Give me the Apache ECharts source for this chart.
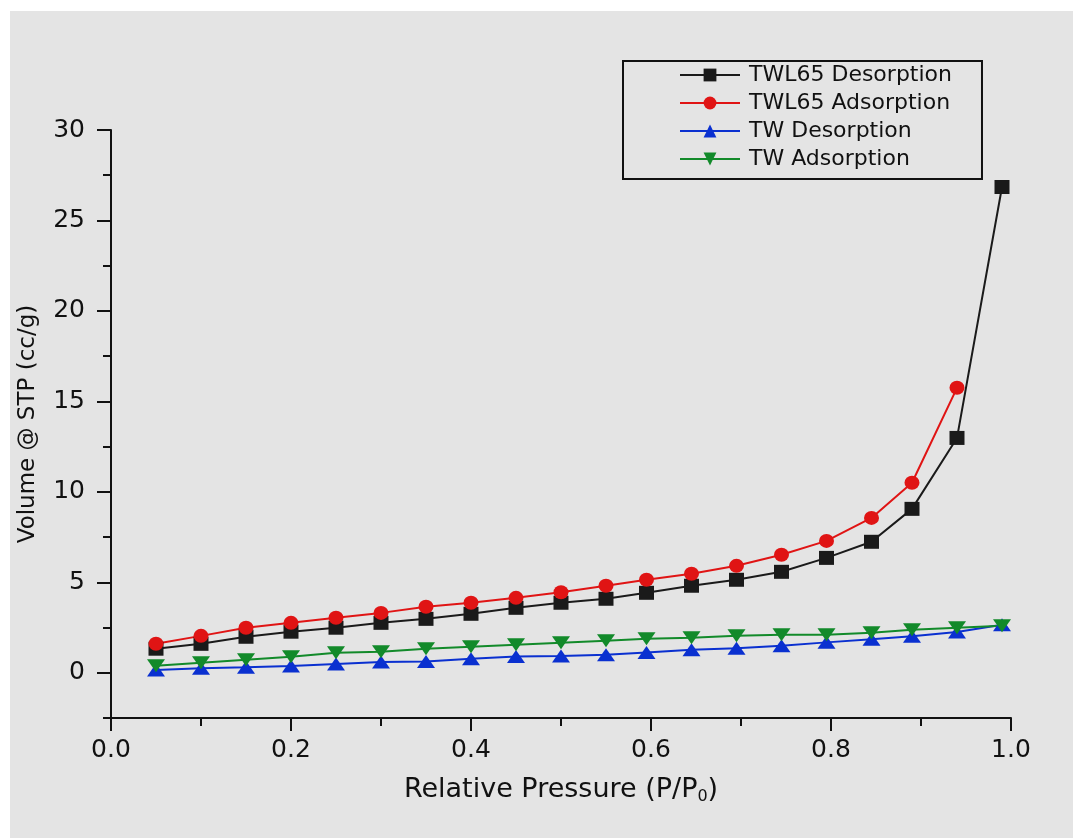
<!DOCTYPE html>
<html>
<head>
<meta charset="utf-8">
<script src="https://cdn.jsdelivr.net/npm/echarts@6/dist/echarts.min.js"></script>
<style>
  html, body { margin: 0; padding: 0; background: #ffffff; }
  #bg { position: absolute; left: 10px; top: 11px; width: 1063px; height: 827px; background: #e4e4e4; }
  #chart { position: absolute; left: 0; top: 0; width: 1073px; height: 838px; }
</style>
</head>
<body>
<div id="bg"></div>
<div id="chart"></div>
<script>
// ---- data ----
const pressure = [0.05, 0.10, 0.15, 0.20, 0.25, 0.30, 0.35, 0.40, 0.45, 0.50, 0.55, 0.595, 0.645, 0.695, 0.745, 0.795, 0.845, 0.89, 0.94, 0.99];
const twl65Desorption = [1.33, 1.6, 1.99, 2.27, 2.49, 2.76, 2.98, 3.26, 3.59, 3.87, 4.09, 4.42, 4.81, 5.14, 5.58, 6.35, 7.24, 9.06, 12.98, 26.85];
const twl65Adsorption = [1.6, 2.04, 2.49, 2.76, 3.04, 3.31, 3.65, 3.87, 4.14, 4.45, 4.81, 5.14, 5.47, 5.91, 6.52, 7.29, 8.56, 10.5, 15.75];
const twDesorption = [0.15, 0.25, 0.3, 0.38, 0.48, 0.6, 0.62, 0.78, 0.9, 0.92, 1.0, 1.12, 1.27, 1.35, 1.5, 1.68, 1.85, 2.02, 2.25, 2.65];
const twAdsorption = [0.39, 0.55, 0.72, 0.88, 1.1, 1.16, 1.33, 1.44, 1.55, 1.66, 1.77, 1.88, 1.93, 2.04, 2.1, 2.1, 2.21, 2.38, 2.49, 2.6];
const seriesNames = ['TWL65 Desorption', 'TWL65 Adsorption', 'TW Desorption', 'TW Adsorption'];
const yMajorTicks = [0, 5, 10, 15, 20, 25, 30];
const xTickLabels = ['0.0', '0.2', '0.4', '0.6', '0.8', '1.0'];

function pairs(xs, ys) { return ys.map((y, i) => [xs[i], y]); }

const FONT = 'DejaVu Sans, sans-serif';
const INK = '#111';
const chart = echarts.init(document.getElementById('chart'), null, { renderer: 'canvas' });

function lineSeries(name, data, color, symbol, size) {
  return {
    name: name, type: 'line', data: data,
    symbol: symbol, symbolSize: size,
    lineStyle: { color: color, width: 2 },
    itemStyle: { color: color },
    emphasis: { disabled: true },
    animation: false
  };
}

chart.setOption({
  backgroundColor: 'transparent',
  animation: false,
  grid: { left: 111, right: 62, top: 130, bottom: 120, containLabel: false },
  legend: {
    orient: 'vertical',
    left: 623, top: 61,
    data: seriesNames,
    itemWidth: 60, itemHeight: 16, itemGap: 6,
    padding: [3, 30, 9, 56],
    borderColor: INK, borderWidth: 2,
    textStyle: { fontFamily: FONT, fontSize: 22, color: INK, padding: [0, 0, 0, 4] },
    selectedMode: false
  },
  xAxis: {
    type: 'value', min: 0, max: 1, interval: 0.2,
    axisLine: { show: true, onZero: false, lineStyle: { color: INK, width: 2 } },
    axisTick: { show: true, length: 13, lineStyle: { color: INK, width: 2 } },
    minorTick: { show: true, splitNumber: 2, length: 8, lineStyle: { color: INK, width: 2 } },
    splitLine: { show: false },
    axisLabel: { fontFamily: FONT, fontSize: 25, color: INK, margin: 20,
      formatter: v => xTickLabels[Math.round(v / 0.2)] },
    name: 'Relative Pressure (P/P{sub|0})',
    nameLocation: 'middle', nameGap: 57,
    nameTextStyle: { fontFamily: FONT, fontSize: 27, color: INK,
      rich: { sub: { fontFamily: FONT, fontSize: 16, color: INK, verticalAlign: 'bottom', padding: [14, 0, 0, 0] } } }
  },
  yAxis: [
    {
      type: 'value', min: -2.5, max: 30, interval: 2.5, position: 'left',
      axisLine: { show: true, onZero: false, lineStyle: { color: INK, width: 2 } },
      axisTick: { show: true, length: 8, lineStyle: { color: INK, width: 2 } },
      splitLine: { show: false },
      axisLabel: { show: false }
    },
    {
      type: 'value', min: -2.5, max: 30, position: 'left',
      axisLine: { show: false },
      axisTick: { show: true, length: 14, customValues: yMajorTicks, lineStyle: { color: INK, width: 2 } },
      splitLine: { show: false },
      axisLabel: { fontFamily: FONT, fontSize: 25, color: INK, margin: 26, customValues: yMajorTicks },
      name: 'Volume @ STP (cc/g)',
      nameLocation: 'middle', nameGap: 71, nameRotate: 90,
      nameTextStyle: { fontFamily: FONT, fontSize: 23, color: INK }
    }
  ],
  series: [
    lineSeries(seriesNames[0], pairs(pressure, twl65Desorption), '#1a1a1a', 'rect', [15, 14]),
    lineSeries(seriesNames[1], pairs(pressure, twl65Adsorption), '#e01414', 'circle', [15, 14]),
    lineSeries(seriesNames[2], pairs(pressure, twDesorption), '#0a30d0', 'triangle', [18, 13]),
    lineSeries(seriesNames[3], pairs(pressure, twAdsorption), '#128a2a', 'path://M0,0 L10,0 L5,8 Z', [18, 13])
  ]
});
</script>
</body>
</html>
